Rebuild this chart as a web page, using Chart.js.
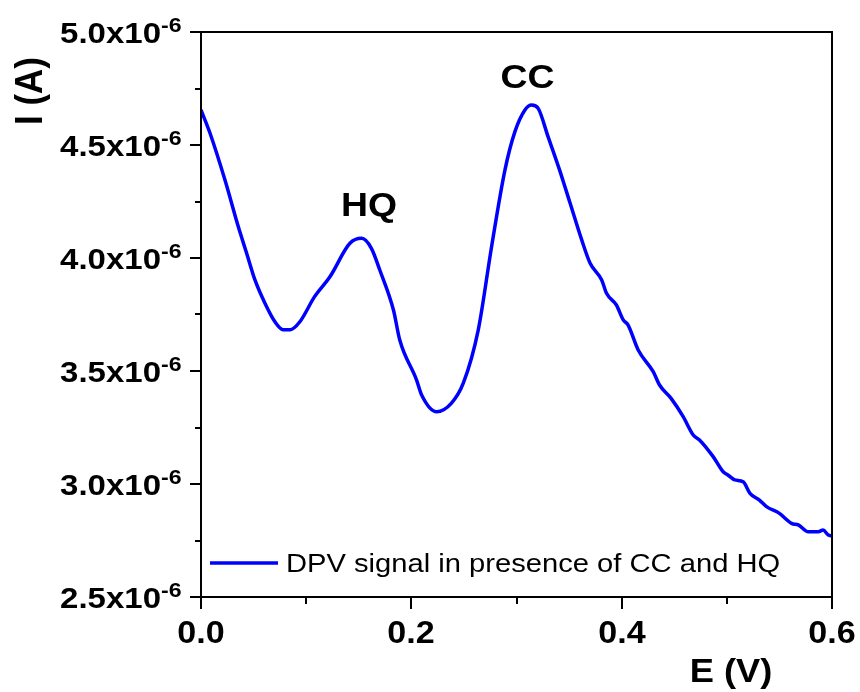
<!DOCTYPE html>
<html>
<head>
<meta charset="utf-8">
<script src="https://cdn.jsdelivr.net/npm/chart.js@4.4.1/dist/chart.umd.min.js"></script>
<style>
  html, body { margin: 0; padding: 0; background: #ffffff; }
  #wrap { width: 860px; height: 692px; }
</style>
</head>
<body>
<div id="wrap"><canvas id="c" width="860" height="692"></canvas></div>
<script>
// ---------- data ----------
const potentialV = [0, 0.0086, 0.0228, 0.0355, 0.0434, 0.0513, 0.0608, 0.0703, 0.078, 0.085,
  0.094, 0.108, 0.1226, 0.1416, 0.1527, 0.162, 0.170, 0.183, 0.189, 0.205,
  0.2098, 0.224, 0.238, 0.2494, 0.2636, 0.2763, 0.289, 0.2985, 0.308, 0.3143,
  0.3206, 0.330, 0.341, 0.351, 0.362, 0.370, 0.381, 0.3856, 0.395, 0.4015,
  0.406, 0.4157, 0.430, 0.436, 0.447, 0.4585, 0.468, 0.474, 0.487, 0.4965,
  0.501, 0.5076, 0.5155, 0.522, 0.531, 0.5377, 0.550, 0.5615, 0.568, 0.577,
  0.587, 0.5915, 0.5965, 0.600];
const currentA = [4.655e-6, 4.552e-6, 4.345e-6, 4.138e-6, 4.021e-6, 3.903e-6, 3.800e-6, 3.718e-6, 3.683e-6, 3.683e-6,
  3.718e-6, 3.829e-6, 3.917e-6, 4.065e-6, 4.087e-6, 4.043e-6, 3.947e-6, 3.770e-6, 3.637e-6, 3.460e-6,
  3.394e-6, 3.320e-6, 3.357e-6, 3.446e-6, 3.681e-6, 4.050e-6, 4.389e-6, 4.559e-6, 4.655e-6, 4.677e-6,
  4.662e-6, 4.537e-6, 4.389e-6, 4.242e-6, 4.080e-6, 3.977e-6, 3.903e-6, 3.844e-6, 3.792e-6, 3.726e-6,
  3.704e-6, 3.593e-6, 3.497e-6, 3.438e-6, 3.379e-6, 3.298e-6, 3.217e-6, 3.195e-6, 3.121e-6, 3.054e-6,
  3.040e-6, 3.018e-6, 3.010e-6, 2.959e-6, 2.929e-6, 2.900e-6, 2.870e-6, 2.826e-6, 2.819e-6, 2.789e-6,
  2.789e-6, 2.796e-6, 2.774e-6, 2.770e-6];
const seriesLabel = 'DPV signal in presence of CC and HQ';
const peakLabels = ['HQ', 'CC'];
const peakLabelE = [0.1597, 0.3105];
const peakLabelI = [4.184e-6, 4.754e-6];
const xTitle = 'E (V)';
const yTitle = 'I (A)';
const yExponent = '-6';

// ---------- helpers ----------
const FONT = '"Liberation Sans", Arial, sans-serif';
const SX = 1.1; // horizontal stretch of the original figure
function txt(ctx, s, x, y, size, bold, align) {
  ctx.save();
  ctx.translate(x, y);
  ctx.scale(SX, 1);
  ctx.font = (bold ? 'bold ' : '') + size + 'px ' + FONT;
  ctx.textAlign = align;
  ctx.textBaseline = 'alphabetic';
  ctx.fillStyle = '#000';
  ctx.fillText(s, 0, 0);
  ctx.restore();
}

const framePlugin = {
  id: 'frame',
  afterDraw(chart) {
    const ctx = chart.ctx;
    const a = chart.chartArea;
    const xs = chart.scales.x, ys = chart.scales.y;
    ctx.save();
    ctx.strokeStyle = '#000';
    ctx.lineWidth = 2;
    ctx.strokeRect(a.left, a.top, a.right - a.left, a.bottom - a.top);

    // y ticks
    ys.ticks.forEach(t => {
      const v = t.value;
      const y = Math.round(ys.getPixelForValue(v));
      const k = v / 0.5e-6;
      const major = Math.abs(k - Math.round(k)) < 1e-6;
      ctx.lineWidth = 2;
      ctx.beginPath();
      ctx.moveTo(a.left, y);
      ctx.lineTo(a.left - (major ? 11 : 6), y);
      ctx.stroke();
      if (major) {
        txt(ctx, (v * 1e6).toFixed(1) + 'x10', a.left - 40, y + 11, 30, true, 'right');
        txt(ctx, yExponent, a.left - 40, y - 0.5, 21, true, 'left');
      }
    });
    // x ticks
    xs.ticks.forEach(t => {
      const v = t.value;
      const x = Math.round(xs.getPixelForValue(v));
      const k = v / 0.2;
      const major = Math.abs(k - Math.round(k)) < 1e-6;
      ctx.lineWidth = 2;
      ctx.beginPath();
      ctx.moveTo(x, a.bottom);
      ctx.lineTo(x, a.bottom + (major ? 12 : 7));
      ctx.stroke();
      if (major) {
        txt(ctx, v.toFixed(1), x, a.bottom + 46, 31, true, 'center');
      }
    });

    // axis titles
    txt(ctx, xTitle, 731, 682, 33, true, 'center');
    ctx.save();
    ctx.translate(42, 91);
    ctx.scale(SX, 1);
    ctx.rotate(-Math.PI / 2);
    ctx.font = 'bold 35px ' + FONT;
    ctx.textAlign = 'center';
    ctx.textBaseline = 'alphabetic';
    ctx.fillStyle = '#000';
    ctx.fillText(yTitle, 0, 0);
    ctx.restore();

    // peak labels
    peakLabels.forEach((s, i) => {
      txt(ctx, s, xs.getPixelForValue(peakLabelE[i]), ys.getPixelForValue(peakLabelI[i]), 34, true, 'center');
    });

    // legend
    const ds = chart.data.datasets[0];
    ctx.strokeStyle = ds.borderColor;
    ctx.lineWidth = 3.5;
    ctx.beginPath();
    ctx.moveTo(a.left + 9, 563);
    ctx.lineTo(a.left + 77, 563);
    ctx.stroke();
    txt(ctx, ds.label, a.left + 85, 572, 26.5, false, 'left');
    ctx.restore();
  }
};

new Chart(document.getElementById('c'), {
  type: 'line',
  data: {
    datasets: [{
      label: seriesLabel,
      data: potentialV.map((e, i) => ({ x: e, y: currentA[i] })),
      borderColor: '#0000ff',
      borderWidth: 3.5,
      pointRadius: 0,
      cubicInterpolationMode: 'monotone',
      fill: false
    }]
  },
  options: {
    responsive: false,
    animation: false,
    devicePixelRatio: 1,
    layout: { padding: { top: 32, right: 28, left: 0, bottom: 0 } },
    plugins: { legend: { display: false }, tooltip: { enabled: false } },
    scales: {
      x: {
        type: 'linear', min: 0, max: 0.6,
        ticks: { display: false, stepSize: 0.1 },
        grid: { display: false },
        border: { display: false },
        afterFit(s) { s.height = 95; }
      },
      y: {
        type: 'linear', min: 2.5e-6, max: 5.0e-6,
        ticks: { display: false, stepSize: 0.25e-6 },
        grid: { display: false },
        border: { display: false },
        afterFit(s) { s.width = 201; }
      }
    }
  },
  plugins: [framePlugin]
});
</script>
</body>
</html>
